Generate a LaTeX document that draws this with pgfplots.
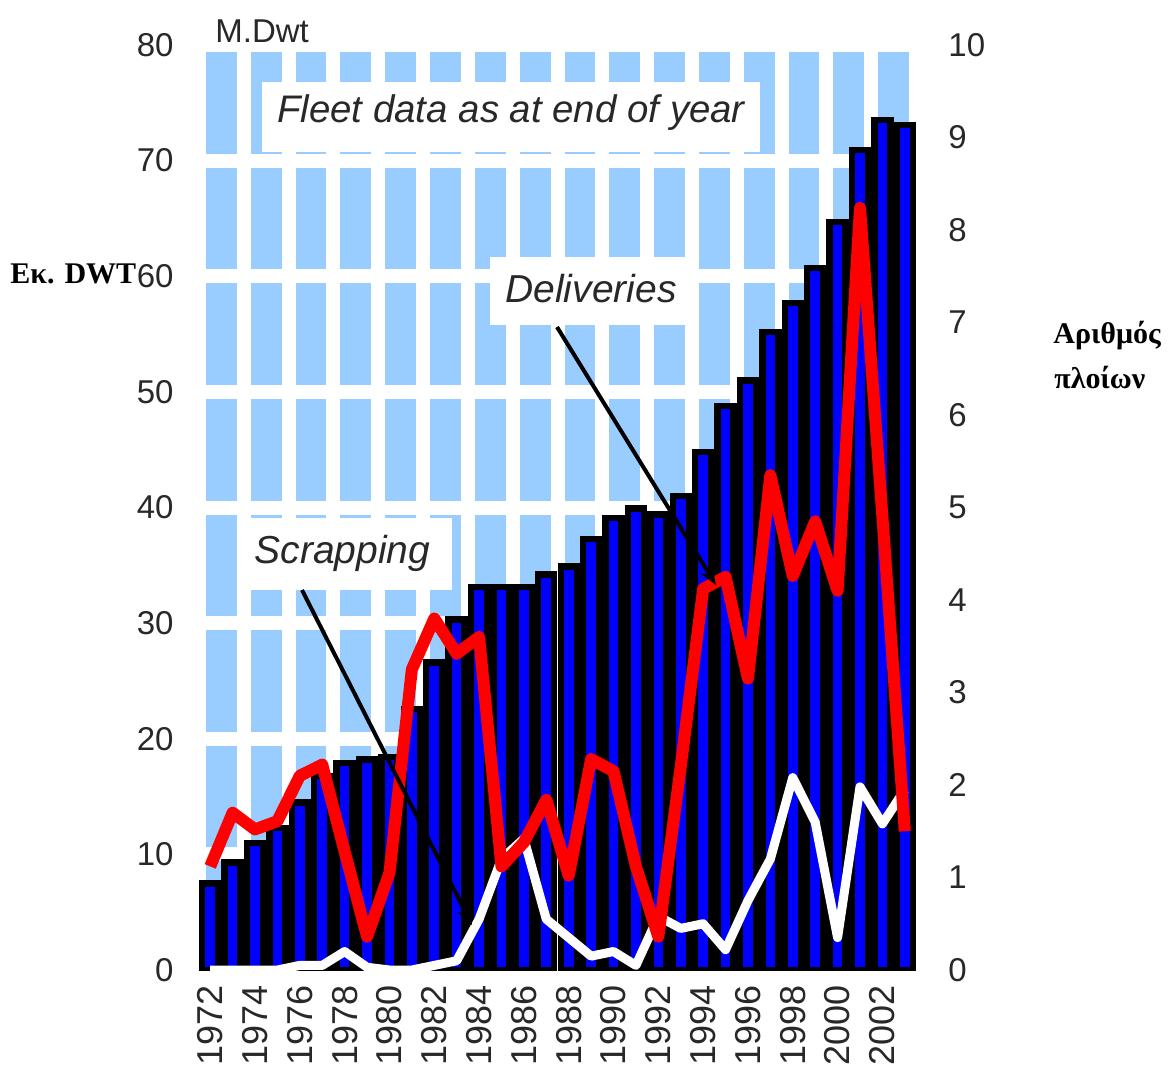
\documentclass[border=0pt]{standalone}
\usepackage{fontspec}
\setmainfont{Liberation Sans}
\newfontfamily\serifgr{Liberation Serif}
\usepackage{pgfplots}
\pgfplotsset{compat=1.18}
\usetikzlibrary{arrows.meta}
\definecolor{bgblue}{RGB}{153,204,255}
\definecolor{barblue}{RGB}{0,0,255}
\definecolor{tickgray}{RGB}{40,40,40}

\pgfplotstableread{
year dwt
1972 7.5
1973 9.3
1974 11.0
1975 12.3
1976 14.5
1977 16.8
1978 17.9
1979 18.2
1980 18.4
1981 22.6
1982 26.6
1983 30.3
1984 33.1
1985 33.1
1986 33.1
1987 34.2
1988 34.9
1989 37.3
1990 39.1
1991 39.9
1992 39.4
1993 41.0
1994 44.8
1995 48.8
1996 51.0
1997 55.2
1998 57.7
1999 60.7
2000 64.7
2001 70.9
2002 73.5
2003 73.1
}\fleet

\pgfplotstableread{
year del
1972 1.12
1973 1.70
1974 1.52
1975 1.61
1976 2.10
1977 2.22
1978 1.28
1979 0.36
1980 1.05
1981 3.25
1982 3.80
1983 3.42
1984 3.60
1985 1.12
1986 1.38
1987 1.84
1988 1.02
1989 2.28
1990 2.15
1991 1.12
1992 0.36
1993 2.20
1994 4.12
1995 4.25
1996 3.15
1997 5.35
1998 4.26
1999 4.85
2000 4.10
2001 8.24
2002 4.90
2003 1.50
}\deliveries

\pgfplotstableread{
year scr
1972 0
1973 0
1974 0
1975 0
1976 0.05
1977 0.05
1978 0.20
1979 0.03
1980 0
1981 0
1982 0.05
1983 0.10
1984 0.55
1985 1.20
1986 1.42
1987 0.55
1988 0.35
1989 0.15
1990 0.20
1991 0.05
1992 0.58
1993 0.45
1994 0.50
1995 0.22
1996 0.75
1997 1.20
1998 2.08
1999 1.60
2000 0.35
2001 1.98
2002 1.58
2003 1.95
}\scrapping

\begin{document}
\begin{tikzpicture}
\path[use as bounding box] (0,0) rectangle (586pt,-539pt);
\begin{axis}[
  at={(99.5pt,-485pt)}, anchor=south west,
  scale only axis, width=358.5pt, height=462.5pt,
  xmin=1971.5, xmax=2003.5, ymin=0, ymax=80,
  axis line style={draw=none},
  major tick length=0pt, minor tick length=0pt,
  xtick={1972,1974,...,2002},
  minor xtick={1971.5,1973.5,...,2003.5},
  ytick={0,10,...,80},
  xminorgrids=true, ymajorgrids=true, xmajorgrids=false,
  minor grid style={white, line width=7pt},
  major grid style={white, line width=7pt},
  axis background/.style={fill=bgblue},
  /pgf/number format/assume math mode=true,
  /pgf/number format/1000 sep={},
  ticklabel style={font=\fontsize{16.5}{18}\selectfont, text=tickgray},
  yticklabel style={anchor=east, inner sep=0pt},
  yticklabel shift=12.5pt,
  xticklabel style={rotate=90, anchor=east, inner sep=0pt, font=\fontsize{18}{20}\selectfont},
  xticklabel shift=7.5pt,
  ybar, bar width=8pt,
]
\addplot[draw=black, fill=barblue, line width=3.2pt] table[x=year,y=dwt] {\fleet};
\end{axis}
\begin{axis}[
  at={(99.5pt,-485pt)}, anchor=south west,
  scale only axis, width=358.5pt, height=462.5pt,
  xmin=1971.5, xmax=2003.5, ymin=0, ymax=10,
  axis y line*=right, axis x line=none,
  axis line style={draw=none},
  major tick length=0pt,
  ytick={0,1,...,10},
  /pgf/number format/assume math mode=true,
  ticklabel style={font=\fontsize{16.5}{18}\selectfont, text=tickgray},
  yticklabel style={anchor=west, inner sep=0pt},
  yticklabel shift=16pt,
  clip=false,
]
\addplot[white, line width=4.5pt, line join=round] table[x=year,y=scr] {\scrapping};
\addplot[red, line width=6pt, line join=round] table[x=year,y=del] {\deliveries};
\end{axis}
\begin{scope}[x=0.5pt,y=-0.5pt]
\fill[white] (262,82) rectangle (760,152);
\node[anchor=base, inner sep=0pt, text=tickgray, font=\itshape\fontsize{19.2}{21}\selectfont] at (511,122) {Fleet data as at end of year};
\fill[white] (490,257) rectangle (692,325);
\node[anchor=base, inner sep=0pt, text=tickgray, font=\itshape\fontsize{19.5}{21}\selectfont] at (591,302) {Deliveries};
\fill[white] (237,518) rectangle (452,590);
\node[anchor=base, inner sep=0pt, text=tickgray, font=\itshape\fontsize{19.5}{21}\selectfont] at (342.5,563) {Scrapping};
\draw[line width=2pt, -{Stealth[length=9pt,width=7pt]}] (557,327) -- (716,585);
\draw[line width=2pt, -{Stealth[length=9pt,width=7pt]}] (302,590) -- (472,925);
\node[anchor=base west, inner sep=0pt, text=tickgray, font=\fontsize{16.5}{18}\selectfont] at (215,42) {M.Dwt};
\node[anchor=base west, inner sep=0pt, font=\serifgr\bfseries\fontsize{15}{17}\selectfont] at (10,283) {Εκ. DWT};
\node[anchor=base west, inner sep=0pt, font=\serifgr\bfseries\fontsize{15}{17}\selectfont] at (1053,343) {Αριθμός};
\node[anchor=base west, inner sep=0pt, font=\serifgr\bfseries\fontsize{15}{17}\selectfont] at (1054,388) {πλοίων};
\end{scope}
\end{tikzpicture}
\end{document}
